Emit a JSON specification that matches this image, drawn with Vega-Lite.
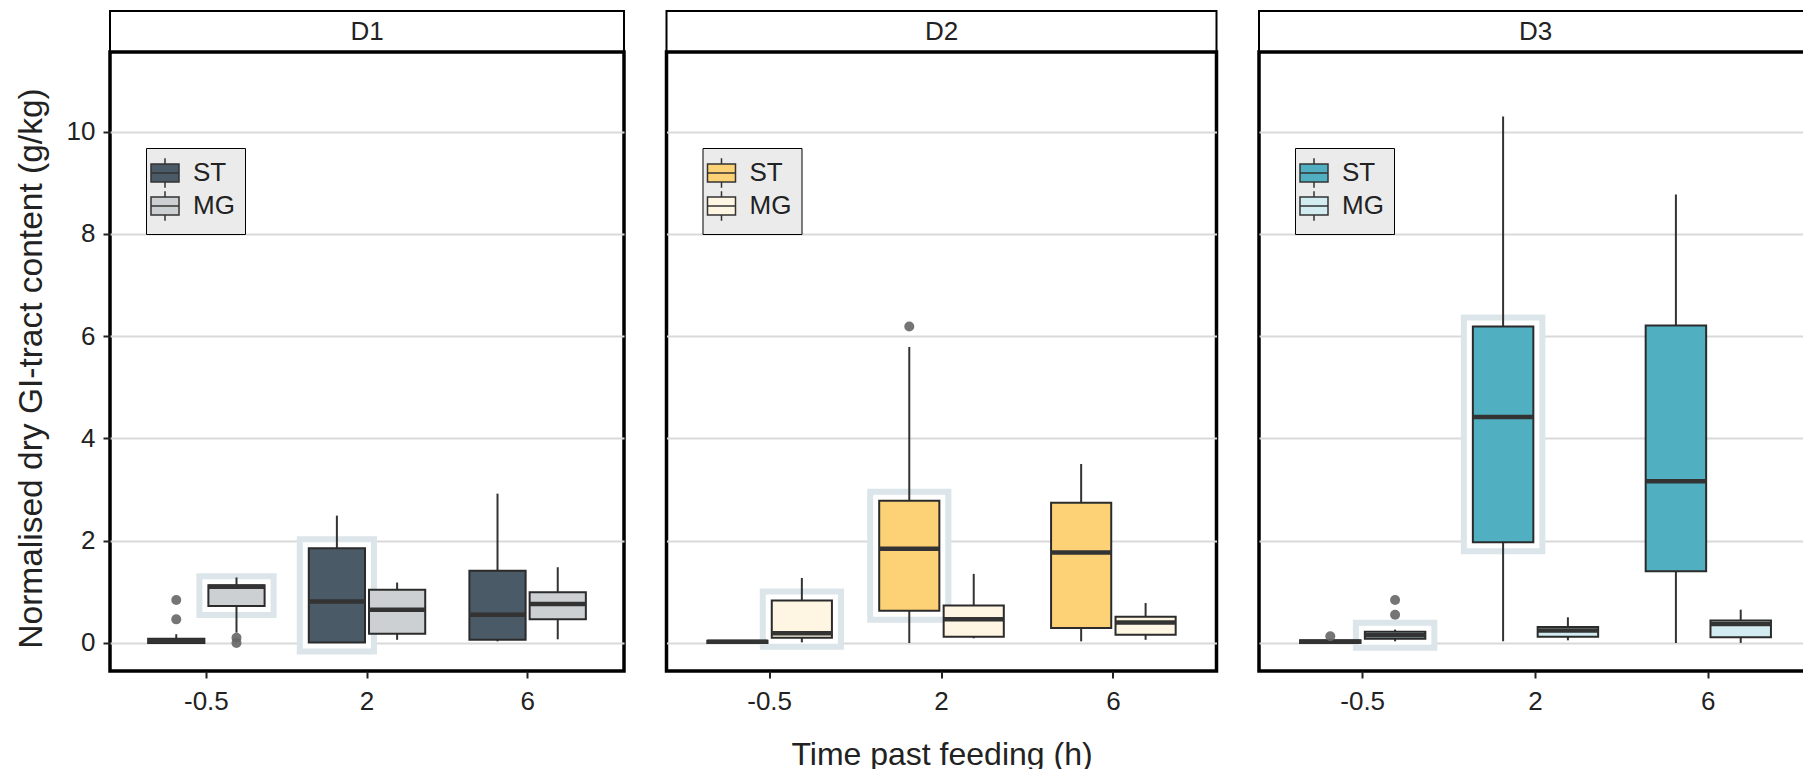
{
  "$schema": "https://vega.github.io/schema/vega-lite/v6.json",
  "background": "white",
  "padding": {"left": 12, "top": 10, "right": 0, "bottom": 0},
  "spacing": 38.5,
  "resolve": {
    "scale": {"color": "independent", "x": "independent", "y": "independent", "xOffset": "independent"},
    "legend": {"color": "independent"},
    "axis": {"x": "independent", "y": "independent"}
  },
  "datasets": {
    "strips": [{"panel": "D1"}, {"panel": "D2"}, {"panel": "D3"}],
    "boxes": [
      {"panel": "D1", "time": "-0.5", "group": "ST", "lower": 0.0, "q1": 0.0, "median": 0.04, "q3": 0.08, "upper": 0.17, "marked": false},
      {"panel": "D1", "time": "-0.5", "group": "MG", "lower": 0.2, "q1": 0.72, "median": 1.1, "q3": 1.13, "upper": 1.28, "marked": true},
      {"panel": "D1", "time": "2", "group": "ST", "lower": 0.0, "q1": 0.01, "median": 0.81, "q3": 1.85, "upper": 2.49, "marked": true},
      {"panel": "D1", "time": "2", "group": "MG", "lower": 0.06, "q1": 0.18, "median": 0.65, "q3": 1.04, "upper": 1.18, "marked": false},
      {"panel": "D1", "time": "6", "group": "ST", "lower": 0.03, "q1": 0.06, "median": 0.55, "q3": 1.41, "upper": 2.92, "marked": false},
      {"panel": "D1", "time": "6", "group": "MG", "lower": 0.07, "q1": 0.46, "median": 0.76, "q3": 0.99, "upper": 1.48, "marked": false},
      {"panel": "D2", "time": "-0.5", "group": "ST", "lower": 0.0, "q1": 0.0, "median": 0.02, "q3": 0.04, "upper": 0.05, "marked": false},
      {"panel": "D2", "time": "-0.5", "group": "MG", "lower": 0.01, "q1": 0.1, "median": 0.19, "q3": 0.83, "upper": 1.27, "marked": true},
      {"panel": "D2", "time": "2", "group": "ST", "lower": 0.0, "q1": 0.63, "median": 1.84, "q3": 2.78, "upper": 5.79, "marked": true},
      {"panel": "D2", "time": "2", "group": "MG", "lower": 0.09, "q1": 0.12, "median": 0.46, "q3": 0.73, "upper": 1.35, "marked": false},
      {"panel": "D2", "time": "6", "group": "ST", "lower": 0.03, "q1": 0.29, "median": 1.77, "q3": 2.74, "upper": 3.5, "marked": false},
      {"panel": "D2", "time": "6", "group": "MG", "lower": 0.06, "q1": 0.16, "median": 0.4, "q3": 0.51, "upper": 0.78, "marked": false},
      {"panel": "D3", "time": "-0.5", "group": "ST", "lower": 0.0, "q1": 0.0, "median": 0.02, "q3": 0.05, "upper": 0.08, "marked": false},
      {"panel": "D3", "time": "-0.5", "group": "MG", "lower": 0.03, "q1": 0.08, "median": 0.15, "q3": 0.22, "upper": 0.26, "marked": true},
      {"panel": "D3", "time": "2", "group": "ST", "lower": 0.03, "q1": 1.97, "median": 4.42, "q3": 6.19, "upper": 10.3, "marked": true},
      {"panel": "D3", "time": "2", "group": "MG", "lower": 0.05, "q1": 0.12, "median": 0.24, "q3": 0.31, "upper": 0.5, "marked": false},
      {"panel": "D3", "time": "6", "group": "ST", "lower": 0.0, "q1": 1.4, "median": 3.16, "q3": 6.21, "upper": 8.77, "marked": false},
      {"panel": "D3", "time": "6", "group": "MG", "lower": 0.0, "q1": 0.11, "median": 0.37, "q3": 0.44, "upper": 0.65, "marked": false}
    ],
    "outliers": [
      {"panel": "D1", "time": "-0.5", "group": "ST", "value": 0.84},
      {"panel": "D1", "time": "-0.5", "group": "ST", "value": 0.46},
      {"panel": "D1", "time": "-0.5", "group": "MG", "value": 0.1},
      {"panel": "D1", "time": "-0.5", "group": "MG", "value": 0.0},
      {"panel": "D2", "time": "2", "group": "ST", "value": 6.19},
      {"panel": "D3", "time": "-0.5", "group": "ST", "value": 0.13},
      {"panel": "D3", "time": "-0.5", "group": "MG", "value": 0.84},
      {"panel": "D3", "time": "-0.5", "group": "MG", "value": 0.55}
    ]
  },
  "hconcat": [
    {
      "spacing": 0,
      "bounds": "flush",
      "vconcat": [
        {
          "width": 514, "height": 41,
          "view": {"stroke": "black", "strokeWidth": 2, "fill": "white"},
          "data": {"name": "strips"},
          "transform": [{"filter": "datum.panel === 'D1'"}],
          "mark": {"type": "text", "fontSize": 26, "color": "#222", "font": "Liberation Sans"},
          "encoding": {"text": {"field": "panel"}}
        },
        {
          "width": 514, "height": 619,
          "view": {"stroke": "black", "strokeWidth": 3.5},
          "encoding": {
            "x": {"field": "time", "type": "nominal", "sort": ["-0.5", "2", "6"], "scale": {"paddingInner": 0, "paddingOuter": 0.1}, "axis": {"title": null}},
            "xOffset": {"field": "group", "type": "nominal", "scale": {"domain": ["ST", "MG"], "paddingInner": 0.0667, "paddingOuter": 0.3667}}
          },
          "layer": [
            {
              "data": {"name": "boxes"},
              "transform": [{"filter": "datum.panel === 'D1' && datum.marked"}],
              "mark": {"type": "bar", "fill": "#dbe5ea", "stroke": "#dbe5ea", "strokeWidth": 24},
              "encoding": {
                "y": {"field": "q1", "type": "quantitative", "scale": {"domain": [-0.55, 11.56], "nice": false, "zero": false},
                      "axis": {"values": [0, 2, 4, 6, 8, 10], "grid": true, "title": "Normalised dry GI-tract content (g/kg)", "titleY": 316}},
                "y2": {"field": "q3"}
              }
            },
            {
              "data": {"name": "boxes"},
              "transform": [{"filter": "datum.panel === 'D1' && datum.marked"}],
              "mark": {"type": "bar", "fill": "white", "stroke": "white", "strokeWidth": 12},
              "encoding": {
                "y": {"field": "q1", "type": "quantitative", "axis": {"values": [0, 2, 4, 6, 8, 10], "grid": true, "title": "Normalised dry GI-tract content (g/kg)", "titleY": 316}},
                "y2": {"field": "q3"}
              }
            },
            {
              "data": {"name": "boxes"},
              "transform": [{"filter": "datum.panel === 'D1'"}],
              "mark": {"type": "rule", "color": "#333", "strokeWidth": 2},
              "encoding": {
                "y": {"field": "lower", "type": "quantitative", "axis": {"values": [0, 2, 4, 6, 8, 10], "grid": true, "title": "Normalised dry GI-tract content (g/kg)", "titleY": 316}},
                "y2": {"field": "upper"}
              }
            },
            {
              "data": {"name": "boxes"},
              "transform": [{"filter": "datum.panel === 'D1'"}],
              "mark": {"type": "bar", "stroke": "#2b2b2b", "strokeWidth": 2, "opacity": 1},
              "encoding": {
                "y": {"field": "q1", "type": "quantitative", "axis": {"values": [0, 2, 4, 6, 8, 10], "grid": true, "title": "Normalised dry GI-tract content (g/kg)", "titleY": 316}},
                "y2": {"field": "q3"},
                "color": {"field": "group", "type": "nominal", "scale": {"domain": ["ST", "MG"], "range": ["#4a5a67", "#cdd0d3"]},
                          "legend": {"title": null, "encode": {"legend": {"update": {"strokeWidth": {"value": 2}}}}}}
              }
            },
            {
              "data": {"name": "boxes"},
              "transform": [{"filter": "datum.panel === 'D1'"}],
              "mark": {"type": "bar", "fill": null, "stroke": "#333", "strokeWidth": 4.5},
              "encoding": {
                "y": {"field": "median", "type": "quantitative", "axis": {"values": [0, 2, 4, 6, 8, 10], "grid": true, "title": "Normalised dry GI-tract content (g/kg)", "titleY": 316}},
                "y2": {"field": "median"}
              }
            },
            {
              "data": {"name": "outliers"},
              "transform": [{"filter": "datum.panel === 'D1'"}],
              "mark": {"type": "point", "filled": true, "color": "#666", "opacity": 0.9, "size": 100},
              "encoding": {
                "y": {"field": "value", "type": "quantitative", "axis": {"values": [0, 2, 4, 6, 8, 10], "grid": true, "title": "Normalised dry GI-tract content (g/kg)", "titleY": 316}}
              }
            }
          ]
        }
      ]
    },
    {
      "spacing": 0,
      "bounds": "flush",
      "vconcat": [
        {
          "width": 550, "height": 41,
          "view": {"stroke": "black", "strokeWidth": 2, "fill": "white"},
          "data": {"name": "strips"},
          "transform": [{"filter": "datum.panel === 'D2'"}],
          "mark": {"type": "text", "fontSize": 26, "color": "#222", "font": "Liberation Sans"},
          "encoding": {"text": {"field": "panel"}}
        },
        {
          "width": 550, "height": 619,
          "view": {"stroke": "black", "strokeWidth": 3.5},
          "encoding": {
            "x": {"field": "time", "type": "nominal", "sort": ["-0.5", "2", "6"], "scale": {"paddingInner": 0, "paddingOuter": 0.1}, "axis": {"title": "Time past feeding (h)"}},
            "xOffset": {"field": "group", "type": "nominal", "scale": {"domain": ["ST", "MG"], "paddingInner": 0.0667, "paddingOuter": 0.3667}}
          },
          "layer": [
            {
              "data": {"name": "boxes"},
              "transform": [{"filter": "datum.panel === 'D2' && datum.marked"}],
              "mark": {"type": "bar", "fill": "#dbe5ea", "stroke": "#dbe5ea", "strokeWidth": 24},
              "encoding": {
                "y": {"field": "q1", "type": "quantitative", "scale": {"domain": [-0.55, 11.56], "nice": false, "zero": false},
                      "axis": {"values": [0, 2, 4, 6, 8, 10], "grid": true, "labels": false, "ticks": false, "title": null}},
                "y2": {"field": "q3"}
              }
            },
            {
              "data": {"name": "boxes"},
              "transform": [{"filter": "datum.panel === 'D2' && datum.marked"}],
              "mark": {"type": "bar", "fill": "white", "stroke": "white", "strokeWidth": 12},
              "encoding": {
                "y": {"field": "q1", "type": "quantitative", "axis": {"values": [0, 2, 4, 6, 8, 10], "grid": true, "labels": false, "ticks": false, "title": null}},
                "y2": {"field": "q3"}
              }
            },
            {
              "data": {"name": "boxes"},
              "transform": [{"filter": "datum.panel === 'D2'"}],
              "mark": {"type": "rule", "color": "#333", "strokeWidth": 2},
              "encoding": {
                "y": {"field": "lower", "type": "quantitative", "axis": {"values": [0, 2, 4, 6, 8, 10], "grid": true, "labels": false, "ticks": false, "title": null}},
                "y2": {"field": "upper"}
              }
            },
            {
              "data": {"name": "boxes"},
              "transform": [{"filter": "datum.panel === 'D2'"}],
              "mark": {"type": "bar", "stroke": "#2b2b2b", "strokeWidth": 2, "opacity": 1},
              "encoding": {
                "y": {"field": "q1", "type": "quantitative", "axis": {"values": [0, 2, 4, 6, 8, 10], "grid": true, "labels": false, "ticks": false, "title": null}},
                "y2": {"field": "q3"},
                "color": {"field": "group", "type": "nominal", "scale": {"domain": ["ST", "MG"], "range": ["#fdd176", "#fff5e3"]},
                          "legend": {"title": null, "encode": {"legend": {"update": {"strokeWidth": {"value": 2}}}}}}
              }
            },
            {
              "data": {"name": "boxes"},
              "transform": [{"filter": "datum.panel === 'D2'"}],
              "mark": {"type": "bar", "fill": null, "stroke": "#333", "strokeWidth": 4.5},
              "encoding": {
                "y": {"field": "median", "type": "quantitative", "axis": {"values": [0, 2, 4, 6, 8, 10], "grid": true, "labels": false, "ticks": false, "title": null}},
                "y2": {"field": "median"}
              }
            },
            {
              "data": {"name": "outliers"},
              "transform": [{"filter": "datum.panel === 'D2'"}],
              "mark": {"type": "point", "filled": true, "color": "#666", "opacity": 0.9, "size": 100},
              "encoding": {
                "y": {"field": "value", "type": "quantitative", "axis": {"values": [0, 2, 4, 6, 8, 10], "grid": true, "labels": false, "ticks": false, "title": null}}
              }
            }
          ]
        }
      ]
    },
    {
      "spacing": 0,
      "bounds": "flush",
      "vconcat": [
        {
          "width": 553, "height": 41,
          "view": {"stroke": "black", "strokeWidth": 2, "fill": "white"},
          "data": {"name": "strips"},
          "transform": [{"filter": "datum.panel === 'D3'"}],
          "mark": {"type": "text", "fontSize": 26, "color": "#222", "font": "Liberation Sans"},
          "encoding": {"text": {"field": "panel"}}
        },
        {
          "width": 553, "height": 619,
          "view": {"stroke": "black", "strokeWidth": 3.5},
          "encoding": {
            "x": {"field": "time", "type": "nominal", "sort": ["-0.5", "2", "6"], "scale": {"paddingInner": 0, "paddingOuter": 0.1}, "axis": {"title": null}},
            "xOffset": {"field": "group", "type": "nominal", "scale": {"domain": ["ST", "MG"], "paddingInner": 0.0667, "paddingOuter": 0.3667}}
          },
          "layer": [
            {
              "data": {"name": "boxes"},
              "transform": [{"filter": "datum.panel === 'D3' && datum.marked"}],
              "mark": {"type": "bar", "fill": "#dbe5ea", "stroke": "#dbe5ea", "strokeWidth": 24},
              "encoding": {
                "y": {"field": "q1", "type": "quantitative", "scale": {"domain": [-0.55, 11.56], "nice": false, "zero": false},
                      "axis": {"values": [0, 2, 4, 6, 8, 10], "grid": true, "labels": false, "ticks": false, "title": null}},
                "y2": {"field": "q3"}
              }
            },
            {
              "data": {"name": "boxes"},
              "transform": [{"filter": "datum.panel === 'D3' && datum.marked"}],
              "mark": {"type": "bar", "fill": "white", "stroke": "white", "strokeWidth": 12},
              "encoding": {
                "y": {"field": "q1", "type": "quantitative", "axis": {"values": [0, 2, 4, 6, 8, 10], "grid": true, "labels": false, "ticks": false, "title": null}},
                "y2": {"field": "q3"}
              }
            },
            {
              "data": {"name": "boxes"},
              "transform": [{"filter": "datum.panel === 'D3'"}],
              "mark": {"type": "rule", "color": "#333", "strokeWidth": 2},
              "encoding": {
                "y": {"field": "lower", "type": "quantitative", "axis": {"values": [0, 2, 4, 6, 8, 10], "grid": true, "labels": false, "ticks": false, "title": null}},
                "y2": {"field": "upper"}
              }
            },
            {
              "data": {"name": "boxes"},
              "transform": [{"filter": "datum.panel === 'D3'"}],
              "mark": {"type": "bar", "stroke": "#2b2b2b", "strokeWidth": 2, "opacity": 1},
              "encoding": {
                "y": {"field": "q1", "type": "quantitative", "axis": {"values": [0, 2, 4, 6, 8, 10], "grid": true, "labels": false, "ticks": false, "title": null}},
                "y2": {"field": "q3"},
                "color": {"field": "group", "type": "nominal", "scale": {"domain": ["ST", "MG"], "range": ["#50b0c2", "#d3ecf1"]},
                          "legend": {"title": null, "encode": {"legend": {"update": {"strokeWidth": {"value": 2}}}}}}
              }
            },
            {
              "data": {"name": "boxes"},
              "transform": [{"filter": "datum.panel === 'D3'"}],
              "mark": {"type": "bar", "fill": null, "stroke": "#333", "strokeWidth": 4.5},
              "encoding": {
                "y": {"field": "median", "type": "quantitative", "axis": {"values": [0, 2, 4, 6, 8, 10], "grid": true, "labels": false, "ticks": false, "title": null}},
                "y2": {"field": "median"}
              }
            },
            {
              "data": {"name": "outliers"},
              "transform": [{"filter": "datum.panel === 'D3'"}],
              "mark": {"type": "point", "filled": true, "color": "#666", "opacity": 0.9, "size": 100},
              "encoding": {
                "y": {"field": "value", "type": "quantitative", "axis": {"values": [0, 2, 4, 6, 8, 10], "grid": true, "labels": false, "ticks": false, "title": null}}
              }
            }
          ]
        }
      ]
    }
  ],
  "config": {
    "font": "Liberation Sans",
    "axis": {
      "labelFont": "Liberation Sans", "titleFont": "Liberation Sans",
      "labelFontSize": 26, "titleFontSize": 33.5, "titleFontWeight": "normal",
      "labelColor": "#222", "titleColor": "#222",
      "tickColor": "#222", "tickWidth": 2, "tickSize": 7,
      "domain": false, "gridColor": "#d9d9d9", "gridWidth": 2
    },
    "axisX": {"grid": false, "labelPadding": 10, "titlePadding": 25, "labelAngle": 0, "titleFontSize": 32},
    "axisY": {"labelPadding": 8, "titlePadding": 18},
    "legend": {
      "orient": "none", "legendX": 36, "legendY": 137,
      "padding": 10, "rowPadding": -3, "labelOffset": 13, "symbolOffset": -6,
      "symbolType": "M-1,-0.64H1V0.64H-1Z M-1,0H1 M0,-0.64V-1.05 M0,0.64V1.05",
      "symbolSize": 784, "symbolStrokeColor": "#333", "symbolStrokeWidth": 1.5,
      "labelFont": "Liberation Sans", "labelFontSize": 26, "labelColor": "#222",
      "fillColor": "#ebebeb", "strokeColor": "black"
    }
  }
}
